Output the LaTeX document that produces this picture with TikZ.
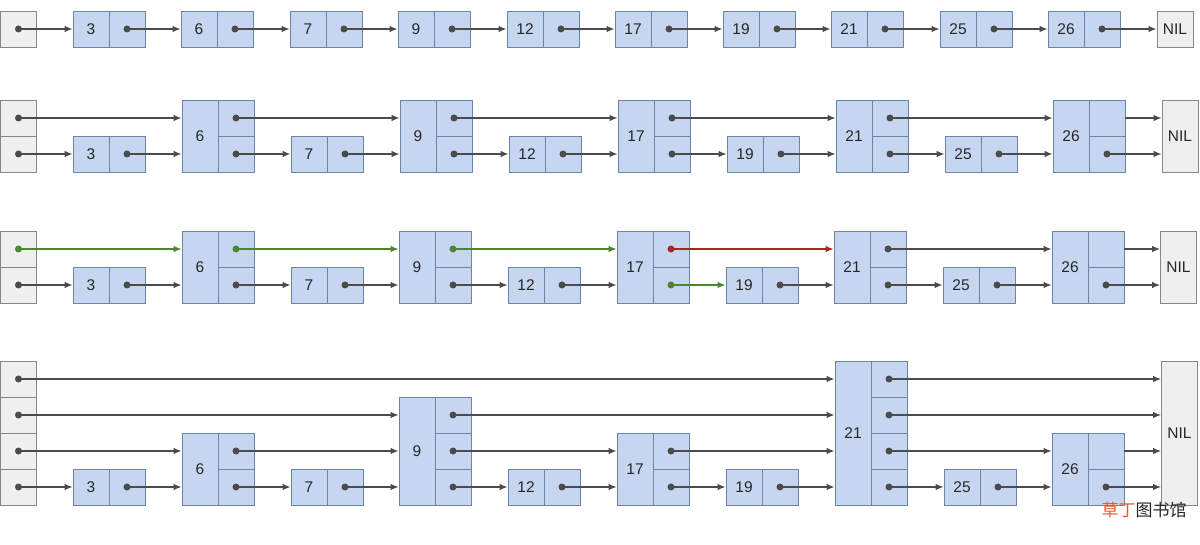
\documentclass[tikz,border=0pt]{standalone}
\usepackage{fontspec}
\setmainfont{Liberation Sans}
\newfontfamily\cjk{Noto Sans CJK SC}
\usetikzlibrary{arrows.meta,decorations.markings}
\definecolor{keyfill}{RGB}{198,214,240}
\definecolor{keyline}{RGB}{108,132,172}
\definecolor{headfill}{RGB}{239,239,239}
\definecolor{headline}{RGB}{135,135,135}
\definecolor{wiregray}{RGB}{75,75,75}
\definecolor{wiregreen}{RGB}{78,134,48}
\definecolor{wirered}{RGB}{165,38,34}
\definecolor{markorange}{RGB}{232,90,44}

\begin{document}
\begin{tikzpicture}[x=1pt, y=-1pt]
  \tikzstyle{cell}=[rectangle, draw=keyline, fill=keyfill, line width=0.95pt, minimum width=36pt, minimum height=36pt, inner sep=0pt, text=black!85, font=\fontsize{15.5}{17}\selectfont]
  \tikzstyle{head}=[cell, draw=headline, fill=headfill]
  \tikzstyle{wire}=[color=wiregray, line width=1.1pt, -{Latex[length=8pt, width=6.5pt]}]
  \tikzstyle{link}=[wire, postaction=decorate, decoration={markings, mark=at position 0 with {\fill circle (3.5pt);}}]

  \useasboundingbox (0,0) rectangle (1200,545);

  % first list: one level
  \node[head] (ah-1) at (18.5, 29) {};
  \foreach \k/\x in {3/73, 6/181, 7/290, 9/398, 12/507, 17/615, 19/723, 21/831, 25/940, 26/1048} {
    \node[cell] (a\k) at (\x+18, 29) {\k};
    \node[cell] (a\k-1) at (\x+54, 29) {};
  }
  \node[head] (an) at (1175, 29) {NIL};

  \foreach \s/\t in {h/3, 3/6, 6/7, 7/9, 9/12, 12/17, 17/19, 19/21, 21/25, 25/26, 26/n}
    \draw[link] (a\s-1.center) -- (a\s-1.center -| a\t.west);

  % second list: two levels
  \foreach \l in {1,2}
    \node[head] (bh-\l) at (18.5, 190-36*\l) {};
  \foreach \k/\x/\h in {3/73/1, 6/182/2, 7/291/1, 9/400/2, 12/509/1, 17/618/2, 19/727/1, 21/836/2, 25/945/1, 26/1053/2} {
    \node[cell, minimum height=36*\h] (b\k) at (\x+18, 172-18*\h) {\k};
    \foreach \l in {1,...,\h}
      \node[cell] (b\k-\l) at (\x+54, 190-36*\l) {};
  }
  \node[head, minimum height=72] (bn) at (1180, 136) {NIL};

  \foreach \s/\t in {h/3, 3/6, 6/7, 7/9, 9/12, 12/17, 17/19, 19/21, 21/25, 25/26, 26/n}
    \draw[link] (b\s-1.center) -- (b\s-1.center -| b\t.west);
  \foreach \s/\t in {h/6, 6/9, 9/17, 17/21, 21/26}
    \draw[link] (b\s-2.center) -- (b\s-2.center -| b\t.west);
  \draw[wire] (b26-2.east) -- (b26-2.east -| bn.west);

  % third list: search path for 19
  \foreach \l in {1,2}
    \node[head] (ch-\l) at (18.5, 321-36*\l) {};
  \foreach \k/\x/\h in {3/73/1, 6/182/2, 7/291/1, 9/399/2, 12/508/1, 17/617/2, 19/726/1, 21/834/2, 25/943/1, 26/1052/2} {
    \node[cell, minimum height=36*\h] (c\k) at (\x+18, 303-18*\h) {\k};
    \foreach \l in {1,...,\h}
      \node[cell] (c\k-\l) at (\x+54, 321-36*\l) {};
  }
  \node[head, minimum height=72] (cn) at (1178.5, 267) {NIL};

  \foreach \s/\t/\c in {h/3/wiregray, 3/6/wiregray, 6/7/wiregray, 7/9/wiregray, 9/12/wiregray, 12/17/wiregray, 17/19/wiregreen, 19/21/wiregray, 21/25/wiregray, 25/26/wiregray, 26/n/wiregray}
    \draw[link, color=\c] (c\s-1.center) -- (c\s-1.center -| c\t.west);
  \foreach \s/\t/\c in {h/6/wiregreen, 6/9/wiregreen, 9/17/wiregreen, 17/21/wirered, 21/26/wiregray}
    \draw[link, color=\c] (c\s-2.center) -- (c\s-2.center -| c\t.west);
  \draw[wire] (c26-2.east) -- (c26-2.east -| cn.west);

  % fourth list: four levels
  \foreach \l in {1,...,4}
    \node[head] (dh-\l) at (18.5, 523-36*\l) {};
  \foreach \k/\x/\h in {3/73/1, 6/182/2, 7/291/1, 9/399/3, 12/508/1, 17/617/2, 19/726/1, 21/835/4, 25/944/1, 26/1052/2} {
    \node[cell, minimum height=36*\h] (d\k) at (\x+18, 505-18*\h) {\k};
    \foreach \l in {1,...,\h}
      \node[cell] (d\k-\l) at (\x+54, 523-36*\l) {};
  }
  \node[head, minimum height=144] (dn) at (1179.5, 433) {NIL};

  \foreach \s/\t in {h/3, 3/6, 6/7, 7/9, 9/12, 12/17, 17/19, 19/21, 21/25, 25/26, 26/n}
    \draw[link] (d\s-1.center) -- (d\s-1.center -| d\t.west);
  \foreach \s/\t in {h/6, 6/9, 9/17, 17/21, 21/26}
    \draw[link] (d\s-2.center) -- (d\s-2.center -| d\t.west);
  \draw[wire] (d26-2.east) -- (d26-2.east -| dn.west);
  \foreach \s/\t in {h/9, 9/21, 21/n}
    \draw[link] (d\s-3.center) -- (d\s-3.center -| d\t.west);
  \foreach \s/\t in {h/21, 21/n}
    \draw[link] (d\s-4.center) -- (d\s-4.center -| d\t.west);

  \node[font=\cjk\fontsize{17}{20}\selectfont, text=black!85] (mark) at (1144, 510) {\textcolor{markorange}{草丁}图书馆};
\end{tikzpicture}
\end{document}
